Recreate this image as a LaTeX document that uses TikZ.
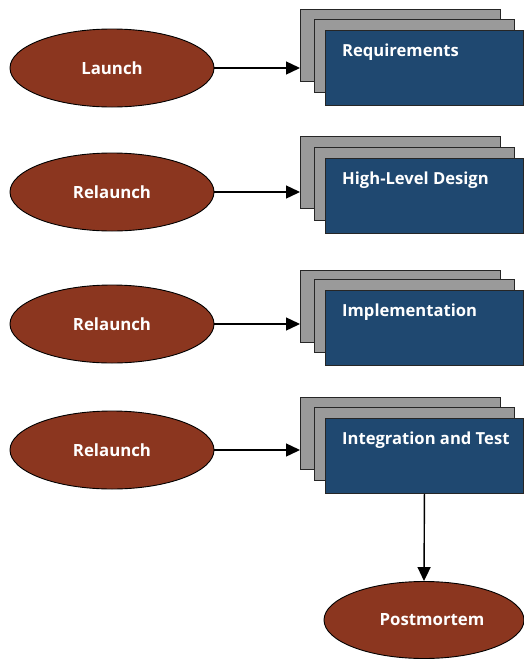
\documentclass[tikz,border=0pt]{standalone}
\usepackage{fontspec}
\setmainfont{Open Sans}
\usetikzlibrary{arrows.meta,shapes.geometric}
\definecolor{phase}{HTML}{8B361F}
\definecolor{stackblue}{HTML}{1F4870}
\definecolor{stackgray}{HTML}{9A9A9A}
\tikzset{
  phasenode/.style={ellipse, draw=black, line width=0.9pt, fill=phase,
    minimum width=204pt, minimum height=78pt, inner sep=0pt,
    text=white, font=\bfseries\fontsize{16.8}{17}\selectfont},
  backbox/.style={rectangle, draw=black!85, line width=0.9pt, fill=stackgray,
    minimum width=200pt, minimum height=72pt, inner sep=0pt, anchor=north west},
  midbox/.style={rectangle, draw=black!85, line width=0.9pt, fill=stackgray,
    minimum width=200pt, minimum height=73pt, inner sep=0pt, anchor=north west},
  frontbox/.style={rectangle, draw=black!85, line width=0.9pt, fill=stackblue,
    minimum width=198pt, minimum height=75pt, inner sep=0pt, anchor=north west},
  boxlabel/.style={anchor=base west, inner sep=0pt, text=white,
    font=\bfseries\fontsize{16.6}{17}\selectfont},
  flow/.style={draw=black, line width=1.4pt, -{Triangle[length=14pt,width=13pt]}}
}
\begin{document}
\begin{tikzpicture}[x=1pt,y=-1pt]
\useasboundingbox (0,0) rectangle (524,659);
% row 1
\node[backbox] (b1) at (300,9) {};
\node[midbox] (m1) at (314,19) {};
\node[frontbox] (f1) at (325,30) {};
\node[boxlabel] (t1) at ([shift={(17,26)}]f1.north west) {Requirements};
\node[phasenode] (e1) at (112,68) {Launch};
% row 2
\node[backbox] (b2) at (300,136) {};
\node[midbox] (m2) at (314,147) {};
\node[frontbox] (f2) at (325,158) {};
\node[boxlabel] (t2) at ([shift={(17,26)}]f2.north west) {High-Level Design};
\node[phasenode] (e2) at (112,192) {Relaunch};
% row 3
\node[backbox] (b3) at (300,270) {};
\node[midbox] (m3) at (314,279) {};
\node[frontbox] (f3) at (325,290) {};
\node[boxlabel] (t3) at ([shift={(17,26)}]f3.north west) {Implementation};
\node[phasenode] (e3) at (112,324) {Relaunch};
% row 4
\node[backbox] (b4) at (300,397) {};
\node[midbox] (m4) at (314,407) {};
\node[frontbox] (f4) at (325,418) {};
\node[boxlabel] (t4) at ([shift={(17,26)}]f4.north west) {Integration and Test};
\node[phasenode] (e4) at (112,450) {Relaunch};
% postmortem
\node[phasenode, minimum width=200pt, minimum height=77pt] (pm) at (424,620) {\hspace*{16pt}Postmortem};
% connectors
\draw[flow] (e1.east) -- (e1.east -| b1.west);
\draw[flow] (e2.east) -- (e2.east -| b2.west);
\draw[flow] (e3.east) -- (e3.east -| b3.west);
\draw[flow] (e4.east) -- (e4.east -| b4.west);
\draw[flow] (f4.south) -- (pm.north);
\end{tikzpicture}
\end{document}
